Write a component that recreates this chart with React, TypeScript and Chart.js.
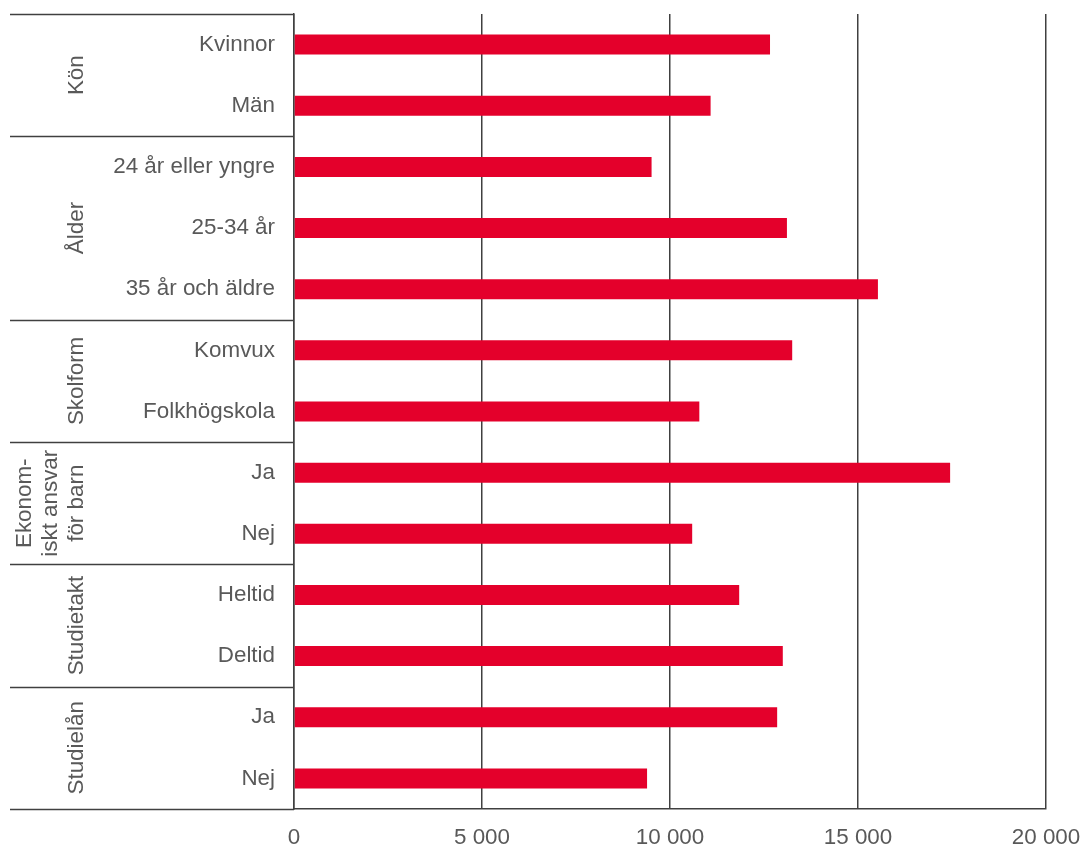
import React, { useEffect, useRef } from "react";
import { Chart, registerables } from "chart.js";

Chart.register(...registerables);

const categories = [
  "Kvinnor",
  "Män",
  "24 år eller yngre",
  "25-34 år",
  "35 år och äldre",
  "Komvux",
  "Folkhögskola",
  "Ja",
  "Nej",
  "Heltid",
  "Deltid",
  "Ja",
  "Nej",
];

const values = [12660, 11080, 9510, 13110, 15530, 13250, 10780, 17450, 10590, 11840, 13000, 12850, 9390];

const groupNames: string[][] = [
  ["Kön"],
  ["Ålder"],
  ["Skolform"],
  ["Ekonom-", "iskt ansvar", "för barn"],
  ["Studietakt"],
  ["Studielån"],
];
const groupSizes = [2, 3, 2, 2, 2, 2];

const xTicks = [0, 5000, 10000, 15000, 20000];

const FONT = "'Liberation Sans', Arial, sans-serif";
const TEXT = "#595959";
const LINE = "#404040";
const RED = "#E4002B";

const fmt = (v: number) => String(v).replace(/\B(?=(\d{3})+(?!\d))/g, " ");

const zeroPad = (s: any) => {
  s.paddingTop = 0;
  s.paddingBottom = 0;
  s.paddingLeft = 0;
  s.paddingRight = 0;
};

const groupPlugin = {
  id: "groupLabels",
  afterDraw(chart: any) {
    const { ctx, chartArea } = chart;
    const y = chart.scales.y;
    const left = 10;
    const boundaries: number[] = [y.top];
    let idx = 0;
    groupSizes.forEach((n) => {
      idx += n;
      if (idx >= categories.length) boundaries.push(y.bottom);
      else boundaries.push((y.getPixelForValue(idx - 1) + y.getPixelForValue(idx)) / 2);
    });
    ctx.save();
    ctx.strokeStyle = LINE;
    ctx.lineWidth = 1.5;
    boundaries.forEach((b) => {
      const yy = Math.round(b) + 0.5;
      ctx.beginPath();
      ctx.moveTo(left, yy);
      ctx.lineTo(chartArea.left, yy);
      ctx.stroke();
    });
    ctx.fillStyle = TEXT;
    ctx.font = `22.4px ${FONT}`;
    ctx.textAlign = "center";
    ctx.textBaseline = "middle";
    const lineH = 26;
    groupNames.forEach((lines, g) => {
      const cy = (boundaries[g] + boundaries[g + 1]) / 2;
      lines.forEach((txt, i) => {
        const cx = 77 - (lines.length - 1 - i) * lineH;
        ctx.save();
        ctx.translate(cx, cy);
        ctx.rotate(-Math.PI / 2);
        ctx.fillText(txt, 0, 0);
        ctx.restore();
      });
    });
    ctx.restore();
  },
};

export default function App() {
  const ref = useRef<HTMLCanvasElement>(null);
  useEffect(() => {
    const chart = new Chart(ref.current!, {
      type: "bar",
      data: {
        labels: categories,
        datasets: [
          {
            data: values,
            backgroundColor: RED,
            categoryPercentage: 1,
            barPercentage: 0.327,
          },
        ],
      },
      options: {
        indexAxis: "y",
        responsive: false,
        animation: false,
        devicePixelRatio: 1,
        layout: { padding: { top: 14, right: 35, left: 0, bottom: 0 } },
        plugins: { legend: { display: false }, tooltip: { enabled: false } },
        scales: {
          x: {
            min: 0,
            max: 20000,
            afterBuildTicks: (s: any) => {
              s.ticks = xTicks.map((v) => ({ value: v }));
            },
            afterFit: (s: any) => {
              s.height = 35;
              zeroPad(s);
            },
            grid: { color: LINE, lineWidth: 1.5, drawTicks: false },
            border: { display: true, color: LINE, width: 1.5 },
            ticks: {
              color: TEXT,
              font: { family: FONT, size: 22.4 },
              padding: 15,
              maxRotation: 0,
              autoSkip: false,
              callback: (v: any) => fmt(Number(v)),
            },
          },
          y: {
            afterFit: (s: any) => {
              s.width = 294;
              zeroPad(s);
            },
            grid: { display: false, drawTicks: false },
            border: { display: true, color: LINE, width: 1.5 },
            ticks: {
              color: TEXT,
              font: { family: FONT, size: 22.4 },
              padding: 19,
              autoSkip: false,
            },
          },
        },
      },
      plugins: [groupPlugin],
    });
    return () => chart.destroy();
  }, []);
  return (
    <div style={{ position: "fixed", left: 0, top: 0, width: 1081, height: 844, background: "#fff" }}>
      <canvas ref={ref} width={1081} height={844} style={{ width: 1081, height: 844 }} />
    </div>
  );
}
